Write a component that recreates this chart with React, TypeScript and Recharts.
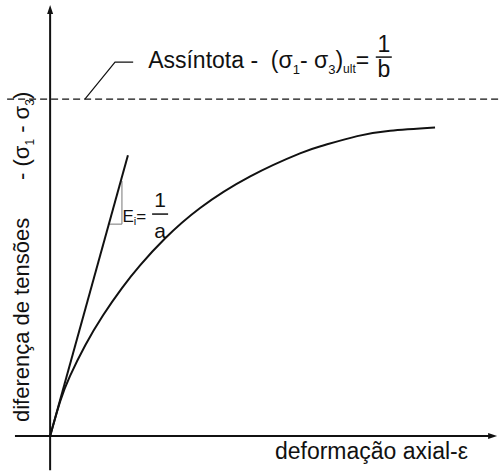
import { ComposedChart, Line, XAxis, YAxis, ReferenceDot, Scatter } from "recharts";

// hyperbolic stress-strain curve (strain, deviator stress)
const curveStrain = [0, 0.27, 0.53, 0.94, 1.42, 1.92, 2.41, 3.07, 4.01, 5.35, 6.68, 7.3, 8.21, 9.09, 10.29];
const curveStress = [0, 0.97, 1.67, 2.53, 3.37, 4.12, 4.76, 5.5, 6.35, 7.23, 7.87, 8.09, 8.35, 8.5, 8.59];

// initial tangent (Ei) and its little slope triangle
const tangentStrain = [0, 2.08];
const tangentStress = [0, 7.82];
const slopeTriStrain = [1.57, 1.92, 1.92];
const slopeTriStress = [5.9, 5.9, 7.1];

// asymptote and the leader line pointing at it
const asymptoteStress = 9.38;
const asymptoteStrain = [-1.15, 12];
const leaderStrain = [0.93, 1.735, 2.22];
const leaderStress = [9.38, 10.41, 10.41];

// axis extents
const xAxisStrain = [-0.94, 11.8];
const yAxisStress = [-0.95, 11.8];
const xArrowTip = { x: 11.95, y: 0 };
const yArrowTip = { x: 0, y: 12 };

const xLabel = "deformação axial-ε";
const yLabel = "diferença de tensões";
const asymptoteLabel = "Assíntota -  (σ";

const FONT = "'Liberation Sans', Arial, sans-serif";
const INK = "#111";

const zip = (xs: number[], ys: number[]) => xs.map((x, i) => ({ x, y: ys[i] }));

const curveData = zip(curveStrain, curveStress);
const tangentData = zip(tangentStrain, tangentStress);
const triData = zip(slopeTriStrain, slopeTriStress);
const asymptoteData = asymptoteStrain.map((x) => ({ x, y: asymptoteStress }));
const leaderData = zip(leaderStrain, leaderStress);
const xAxisData = xAxisStrain.map((x) => ({ x, y: 0 }));
const yAxisData = yAxisStress.map((y) => ({ x: 0, y }));

const AsymptoteText = ({ cx, cy }: any) => (
  <text x={cx} y={cy} fontFamily={FONT} fontSize={23} fill={INK} style={{ whiteSpace: "pre" }}>
    {asymptoteLabel}
    <tspan fontSize={13} dy={6}>1</tspan>
    <tspan dy={-6}>{"- σ"}</tspan>
    <tspan fontSize={13} dy={6}>3</tspan>
    <tspan dy={-6}>)</tspan>
    <tspan fontSize={12} dy={5}>ult</tspan>
    <tspan dy={-5}>=</tspan>
  </text>
);

const Fraction = ({ cx, cy, num, den, size, numGap, denGap }: any) => (
  <g fontFamily={FONT} fontSize={size} fill={INK} textAnchor="middle">
    <text x={cx} y={cy - numGap}>{num}</text>
    <line x1={cx - 8} x2={cx + 8} y1={cy} y2={cy} stroke={INK} strokeWidth={1.5} />
    <text x={cx} y={cy + denGap}>{den}</text>
  </g>
);

const EiText = ({ cx, cy }: any) => (
  <text x={cx} y={cy} fontFamily={FONT} fontSize={17} fill={INK}>
    E
    <tspan fontSize={11} dy={3}>i</tspan>
    <tspan dy={-3}>=</tspan>
  </text>
);

const XLabel = ({ cx, cy }: any) => (
  <text x={cx} y={cy} fontFamily={FONT} fontSize={23} fill={INK}>
    {xLabel}
  </text>
);

const YLabel = ({ cx, cy }: any) => (
  <text x={cx} y={cy} fontFamily={FONT} fontSize={22} fill={INK} transform={`rotate(-90 ${cx} ${cy})`}>
    {yLabel}
  </text>
);

const YLabelSigma = ({ cx, cy }: any) => (
  <text
    x={cx}
    y={cy}
    fontFamily={FONT}
    fontSize={22}
    fill={INK}
    transform={`rotate(-90 ${cx} ${cy})`}
    style={{ whiteSpace: "pre" }}
  >
    {"- (σ"}
    <tspan fontSize={12} dy={5}>1</tspan>
    <tspan dy={-5}>{" - σ"}</tspan>
    <tspan fontSize={12} dy={5}>3</tspan>
    <tspan dy={-5}>)</tspan>
  </text>
);

const ArrowRight = ({ cx, cy }: any) => (
  <polygon points={`${cx},${cy} ${cx - 9},${cy - 3} ${cx - 9},${cy + 3}`} fill={INK} />
);
const ArrowUp = ({ cx, cy }: any) => (
  <polygon points={`${cx},${cy} ${cx - 3},${cy + 9} ${cx + 3},${cy + 9}`} fill={INK} />
);

export default function App() {
  return (
    <div style={{ position: "absolute", left: 0, top: 0, background: "#fff" }}>
      <ComposedChart width={499} height={472} margin={{ top: 5, right: 0, bottom: 0, left: 0 }}>
        <XAxis type="number" dataKey="x" domain={[-1.34, 12]} allowDataOverflow hide />
        <YAxis type="number" dataKey="y" domain={[-1, 12]} allowDataOverflow hide />

        <Line data={xAxisData} dataKey="y" type="linear" stroke={INK} strokeWidth={2} dot={false} activeDot={false} isAnimationActive={false} />
        <Line data={yAxisData} dataKey="y" type="linear" stroke={INK} strokeWidth={2} dot={false} activeDot={false} isAnimationActive={false} />
        <Scatter data={[xArrowTip]} shape={ArrowRight} isAnimationActive={false} />
        <Scatter data={[yArrowTip]} shape={ArrowUp} isAnimationActive={false} />

        <Line data={asymptoteData} dataKey="y" type="linear" stroke={INK} strokeWidth={1.2} strokeDasharray="7 4" dot={false} activeDot={false} isAnimationActive={false} />
        <Line data={leaderData} dataKey="y" type="linear" stroke={INK} strokeWidth={1.2} dot={false} activeDot={false} isAnimationActive={false} />

        <Line data={triData} dataKey="y" type="linear" stroke="#777" strokeWidth={1} dot={false} activeDot={false} isAnimationActive={false} />
        <Line data={tangentData} dataKey="y" type="linear" stroke={INK} strokeWidth={2} dot={false} activeDot={false} isAnimationActive={false} />
        <Line data={curveData} dataKey="y" type="natural" stroke={INK} strokeWidth={2} dot={false} activeDot={false} isAnimationActive={false} />

        <ReferenceDot x={2.62} y={10.25} r={0} shape={AsymptoteText} />
        <ReferenceDot
          x={8.92}
          y={10.55}
          r={0}
          shape={(p: any) => <Fraction {...p} num="1" den="b" size={23} numGap={5} denGap={20} />}
        />
        <ReferenceDot x={1.935} y={5.96} r={0} shape={EiText} />
        <ReferenceDot
          x={2.94}
          y={6.18}
          r={0}
          shape={(p: any) => <Fraction {...p} num="1" den="a" size={21} numGap={7} denGap={24} />}
        />
        <ReferenceDot x={6.01} y={-0.64} r={0} shape={XLabel} />
        <ReferenceDot x={-0.564} y={0.39} r={0} shape={YLabel} />
        <ReferenceDot x={-0.564} y={7.13} r={0} shape={YLabelSigma} />
      </ComposedChart>
    </div>
  );
}
